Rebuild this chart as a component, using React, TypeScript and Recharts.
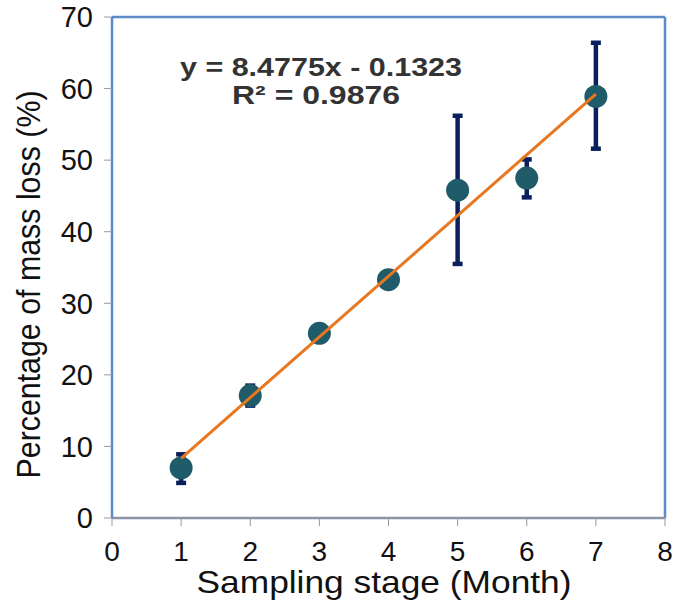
import { ScatterChart, Scatter, XAxis, YAxis, ErrorBar, ReferenceLine, Label } from 'recharts'

const months = [1, 2, 3, 4, 5, 6, 7]
const massLoss = [7.0, 17.1, 25.8, 33.3, 45.8, 47.5, 58.9]
const errLow = [2.1, 1.4, 1.0, 0.8, 10.3, 2.7, 7.3]
const errHigh = [1.9, 1.4, 1.0, 0.8, 10.4, 2.6, 7.5]

const xTicks = [0, 1, 2, 3, 4, 5, 6, 7, 8]
const yTicks = [0, 10, 20, 30, 40, 50, 60, 70]

const slope = 8.4775
const intercept = -0.1323
const trendX = [1, 7]

const points = months.map((m, i) => ({ x: m, y: massLoss[i], err: [errLow[i], errHigh[i]] }))
const trend = trendX.map((x) => ({ x, y: slope * x + intercept }))

const FONT = 'Arial, "Liberation Sans", sans-serif'
const BLUE = '#5b8bc9'

function Dot(props: any) {
  const { cx, cy } = props
  if (cx == null || cy == null) return <g />
  return <circle cx={cx} cy={cy} r={11.5} fill="#1f5b68" />
}

function YTitle({ viewBox }: any) {
  const cy = viewBox.y + viewBox.height / 2 + 17
  return (
    <text
      x={40}
      y={cy}
      transform={`rotate(-90 40 ${cy})`}
      textAnchor="middle"
      fontSize={34}
      fontFamily={FONT}
      fill="#111"
      textLength={388}
      lengthAdjust="spacingAndGlyphs"
    >
      Percentage of mass loss (%)
    </text>
  )
}

function XTitle() {
  return (
    <text
      x={384}
      y={593}
      textAnchor="middle"
      fontSize={32}
      fontFamily={FONT}
      fill="#111"
      textLength={375}
      lengthAdjust="spacingAndGlyphs"
    >
      Sampling stage (Month)
    </text>
  )
}

export default function App() {
  return (
    <div style={{ position: 'absolute', left: 0, top: 0, width: 675, height: 601, background: '#fff' }}>
      <ScatterChart width={675} height={601} margin={{ top: 17, right: 10, left: 0, bottom: 0 }}>
        <XAxis
          type="number"
          dataKey="x"
          domain={[0, 8]}
          ticks={xTicks}
          interval={0}
          height={83}
          axisLine={{ stroke: '#8a94a4', strokeWidth: 2.5 }}
          tickLine={{ stroke: '#999' }}
          tickSize={8}
          tickMargin={15}
          tick={{ fontSize: 28, fontFamily: FONT, fill: '#111' }}
        >
          <Label content={<XTitle />} />
        </XAxis>
        <YAxis
          type="number"
          dataKey="y"
          domain={[0, 70]}
          ticks={yTicks}
          interval={0}
          width={112}
          axisLine={{ stroke: BLUE, strokeWidth: 2.5 }}
          tickLine={{ stroke: '#999' }}
          tickSize={8}
          tickMargin={11}
          tick={{ fontSize: 29, fontFamily: FONT, fill: '#111' }}
        >
          <Label content={<YTitle />} />
        </YAxis>
        <ReferenceLine y={70} stroke={BLUE} strokeWidth={2.5} />
        <ReferenceLine x={8} stroke={BLUE} strokeWidth={2.5} />
        <Scatter data={points} shape={<Dot />} isAnimationActive={false}>
          <ErrorBar dataKey="err" direction="y" width={5} stroke="#0b1f5e" strokeWidth={4.5} />
        </Scatter>
        <Scatter
          data={trend}
          line={{ stroke: '#e8771f', strokeWidth: 3 }}
          shape={() => <g />}
          isAnimationActive={false}
        />
      </ScatterChart>
      <svg width={675} height={601} style={{ position: 'absolute', left: 0, top: 0, pointerEvents: 'none' }}>
        <text
          x={321}
          y={76}
          textAnchor="middle"
          fontSize={25}
          fontWeight="bold"
          fontFamily={FONT}
          fill="#333"
          textLength={282}
          lengthAdjust="spacingAndGlyphs"
        >
          y = 8.4775x - 0.1323
        </text>
        <text
          x={316}
          y={104}
          textAnchor="middle"
          fontSize={25}
          fontWeight="bold"
          fontFamily={FONT}
          fill="#333"
          textLength={168}
          lengthAdjust="spacingAndGlyphs"
        >
          R² = 0.9876
        </text>
      </svg>
    </div>
  )
}
